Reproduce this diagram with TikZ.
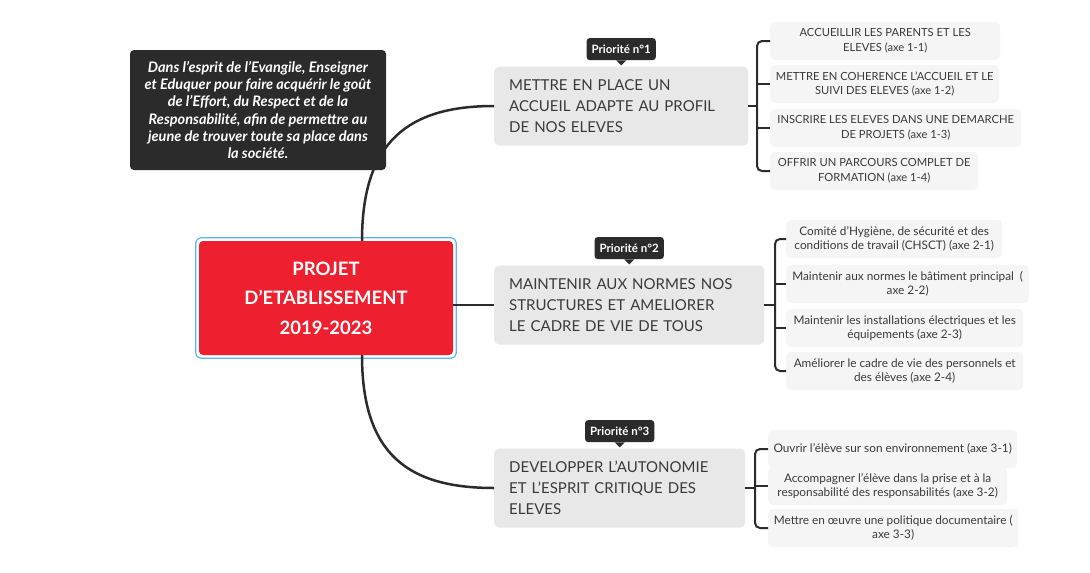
\documentclass[tikz,border=0pt]{standalone}
\usepackage{fontspec}
\setmainfont{Lato}
\usetikzlibrary{positioning,calc}

\definecolor{inkdark}{HTML}{2B2B2B}
\definecolor{rootred}{HTML}{EE1F2E}
\definecolor{rootring}{HTML}{5BB8E8}
\definecolor{mainfill}{HTML}{E8E8E8}
\definecolor{leaffill}{HTML}{F5F5F5}
\definecolor{textgray}{HTML}{3A3A3A}

\newcommand{\leaf}[6][11.8]{%
  % #1 font size (default 11.8), #2 name, #3 x of left edge, #4 y of centre, #5 width, #6 text
  \node[leaf, anchor=west, minimum width=#5, font=\fontsize{#1}{14.5}\selectfont]
    (#2) at (#3,#4) {#6};
}
\newcommand{\prio}[2]{%
  % #1 priority node, #2 number
  \node[priotag, above=6pt of #1] (#1tag) {Priorité n°#2};
  \fill[inkdark] ([xshift=-5pt]#1tag.south) -- ([xshift=5pt]#1tag.south)
    -- ([yshift=-5pt]#1tag.south) -- cycle;
}

\begin{document}
\begin{tikzpicture}[x=1pt,y=-1pt]

\tikzset{
  root/.style={fill=rootred, rounded corners=4pt, minimum width=254pt,
    minimum height=114pt, text=white, align=center,
    font=\fontsize{18.5}{29.5}\selectfont\bfseries},
  main/.style={fill=mainfill, rounded corners=5pt, minimum height=79pt,
    inner xsep=15pt, align=left, text=textgray, anchor=west,
    font=\fontsize{15}{21}\selectfont},
  leaf/.style={fill=leaffill, rounded corners=5pt, minimum height=38pt,
    inner sep=2pt, align=center, text=textgray},
  priotag/.style={fill=inkdark, rounded corners=3pt, text=white,
    minimum height=22pt, inner xsep=5pt, inner ysep=0pt,
    font=\fontsize{11.5}{13}\selectfont\bfseries},
  note/.style={fill=inkdark, rounded corners=4pt, text=white, align=center,
    minimum width=256pt, minimum height=120pt,
    font=\fontsize{14.5}{17.2}\selectfont\bfseries\itshape},
  link/.style={draw=inkdark, line width=2.5pt},
  brace/.style={draw=inkdark, line width=2pt, rounded corners=5pt},
}

\fill[white] (0,0) rectangle (1090,573);
\useasboundingbox (0,0) rectangle (1090,573);

% ---------------- centre and note ----------------
\node[root] (root) at (326,298) {PROJET\\D'ETABLISSEMENT\\2019-2023};
\draw[rootring, line width=1.2pt, rounded corners=5pt]
  ([shift={(-3pt,3pt)}]root.north west) rectangle ([shift={(3pt,-3pt)}]root.south east);

\node[note] (note) at (258,110) {Dans l'esprit de l'Evangile, Enseigner\\
  et Eduquer pour faire acquérir le goût\\de l'Effort, du Respect et de la\\
  Responsabilité, afin de permettre au\\jeune de trouver toute sa place dans\\la société.};

% ---------------- priorities ----------------
\node[main, text width=224pt] (p1) at (494,106)
  {METTRE EN PLACE UN\\ACCUEIL ADAPTE AU PROFIL\\DE NOS ELEVES};
\node[main, text width=240pt] (p2) at (494,305)
  {MAINTENIR AUX NORMES NOS\\STRUCTURES ET AMELIORER\\LE CADRE DE VIE DE TOUS};
\node[main, text width=221pt] (p3) at (494,488)
  {DEVELOPPER L'AUTONOMIE\\ET L'ESPRIT CRITIQUE DES\\ELEVES};

\prio{p1}{1}
\prio{p2}{2}
\prio{p3}{3}

\draw[link] ([xshift=36pt]root.north) .. controls +(0,-100) and +(-85,0) .. (p1.west);
\draw[link] (root.east |- p2.west) -- (p2.west);
\draw[link] ([xshift=36pt]root.south) .. controls +(0,100) and +(-85,0) .. (p3.west);

% ---------------- axes of priority 1 ----------------
\leaf[11.2]{c11}{770}{41}{230pt}{ACCUEILLIR LES PARENTS ET LES\\ELEVES (axe 1-1)}
\leaf[11.2]{c12}{770}{84}{229pt}{METTRE EN COHERENCE L'ACCUEIL ET LE\\SUIVI DES ELEVES (axe 1-2)}
\leaf[11.2]{c13}{770}{128}{251pt}{INSCRIRE LES ELEVES DANS UNE DEMARCHE\\DE PROJETS (axe 1-3)}
\leaf[11.2]{c14}{770}{171}{208pt}{OFFRIR UN PARCOURS COMPLET DE\\FORMATION (axe 1-4)}

\coordinate (b1) at (757,106);
\draw[link, line width=2pt] (p1.east) -- (b1);
\draw[brace] (c11.west) -- (c11.west -| b1) -- (c14.west -| b1) -- (c14.west);
\draw[brace] (c12.west -| b1) -- (c12.west);
\draw[brace] (c13.west -| b1) -- (c13.west);

% ---------------- axes of priority 2 ----------------
\leaf{c21}{786}{239}{216pt}{Comité d'Hygiène, de sécurité et des\\conditions de travail (CHSCT) (axe 2-1)}
\leaf{c22}{786}{284}{243pt}{Maintenir aux normes le bâtiment principal\ \ (\\axe 2-2)}
\leaf{c23}{786}{328}{237pt}{Maintenir les installations électriques et les\\équipements (axe 2-3)}
\leaf{c24}{786}{371}{237pt}{Améliorer le cadre de vie des personnels et\\des élèves (axe 2-4)}

\coordinate (b2) at (775,305);
\draw[link, line width=2pt] (p2.east) -- (b2);
\draw[brace] (c21.west) -- (c21.west -| b2) -- (c24.west -| b2) -- (c24.west);
\draw[brace] (c22.west -| b2) -- (c22.west);
\draw[brace] (c23.west -| b2) -- (c23.west);

% ---------------- axes of priority 3 ----------------
\leaf{c31}{768}{449}{249pt}{Ouvrir l'élève sur son environnement (axe 3-1)}
\leaf{c32}{768}{486}{239pt}{Accompagner l'élève dans la prise et à la\\responsabilité des responsabilités (axe 3-2)}
\leaf{c33}{768}{528}{250pt}{Mettre en œuvre une politique documentaire (\\axe 3-3)}

\coordinate (b3) at (755,488);
\draw[link, line width=2pt] (p3.east) -- (b3);
\draw[brace] (c31.west) -- (c31.west -| b3) -- (c33.west -| b3) -- (c33.west);
\draw[brace] (c32.west -| b3) -- (c32.west);

\end{tikzpicture}
\end{document}
